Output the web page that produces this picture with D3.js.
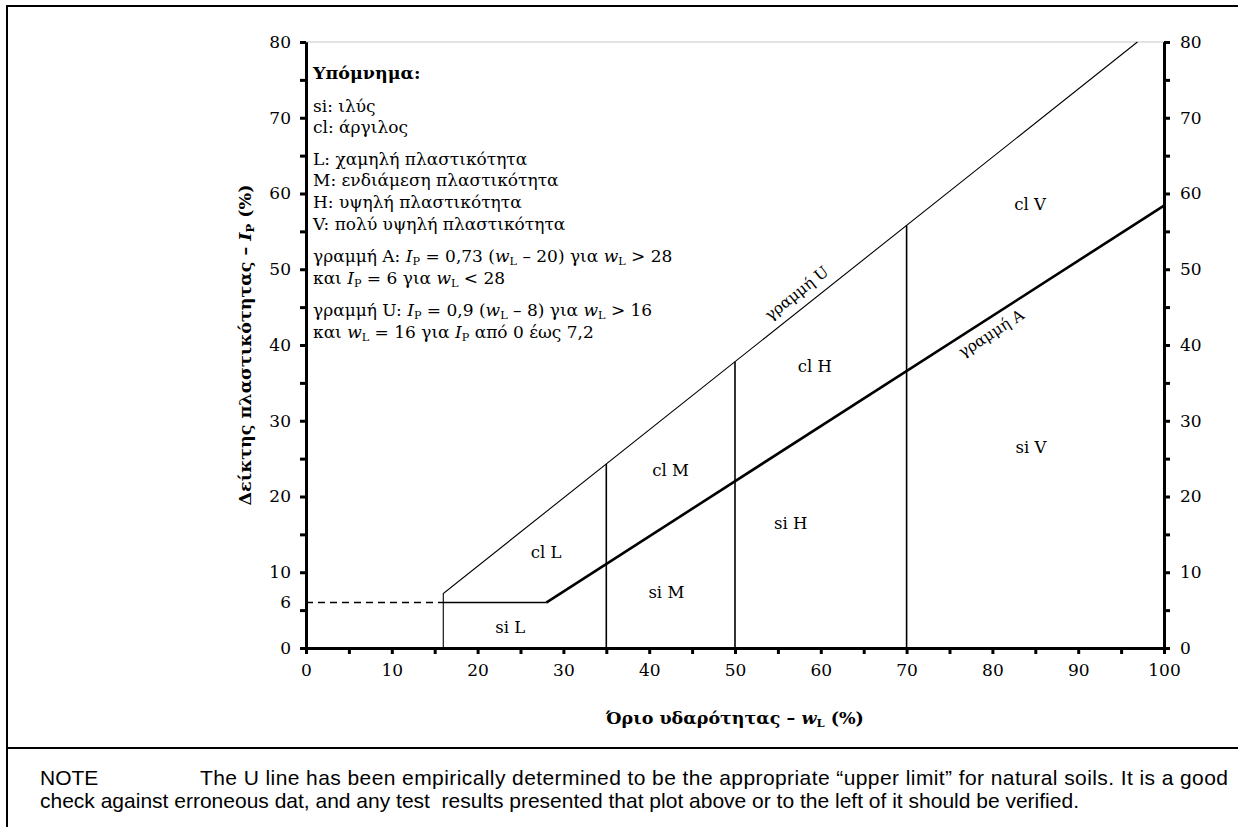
<!DOCTYPE html>
<html>
<head>
  <meta charset="utf-8">
  <title>Διάγραμμα πλαστικότητας</title>
  <script src="https://d3js.org/d3.v7.min.js"></script>
  <style>
    body { margin: 0; background: #fff; }
    .serif { font-family: "DejaVu Serif", serif; }
    .axis text { font-family: "DejaVu Serif", serif; font-size: 17px; fill: #000; }
    .axis path, .axis line { stroke: #000; }
    .pre { white-space: pre; }
  </style>
</head>
<body>
  <svg id="chart"></svg>

  <script>
    // Τιμές αξόνων
    var xMajor = [0, 10, 20, 30, 40, 50, 60, 70, 80, 90, 100];
    var xMinor = [5, 15, 25, 35, 45, 55, 65, 75, 85, 95];
    var yMajor = [0, 10, 20, 30, 40, 50, 60, 70, 80];
    var yMinor = [5, 15, 25, 35, 45, 55, 65, 75];

    // Γραμμή U (wL, Ip)
    var uLineWl = [16, 16, 96.9];
    var uLineIp = [0, 7.2, 80];
    // Γραμμή A
    var aFlatWl = [16, 28];
    var aFlatIp = [6, 6];
    var aSlopeWl = [28, 100];
    var aSlopeIp = [6, 58.4];
    var aDashWl = [0, 16];
    var aDashIp = [6, 6];

    // Κάθετα όρια πλαστικότητας
    var dividerWl = [35, 50, 70];
    var dividerTop = [24.3, 37.8, 55.8];

    // Ετικέτες περιοχών
    var zoneNames = ["si L", "cl L", "cl M", "si M", "cl H", "si H", "cl V", "si V"];
    var zoneWl = [23.8, 28, 42.5, 42, 59.3, 56.5, 84.4, 84.5];
    var zoneIp = [2.8, 12.6, 23.5, 7.4, 37.2, 16.5, 58.6, 26.5];

    // Υπόμνημα
    var legendTitle = "Υπόμνημα:";
    var legendLines = [
      [{t: "si: ιλύς"}],
      [{t: "cl: άργιλος"}],
      [{t: "L: χαμηλή πλαστικότητα"}],
      [{t: "M: ενδιάμεση πλαστικότητα"}],
      [{t: "H: υψηλή πλαστικότητα"}],
      [{t: "V: πολύ υψηλή πλαστικότητα"}],
      [{t: "γραμμή A: "}, {t: "I", i: 1}, {t: "P", s: 1}, {t: " = 0,73 ("}, {t: "w", i: 1}, {t: "L", s: 1}, {t: " – 20) για "}, {t: "w", i: 1}, {t: "L", s: 1}, {t: " > 28"}],
      [{t: "και "}, {t: "I", i: 1}, {t: "P", s: 1}, {t: " = 6 για "}, {t: "w", i: 1}, {t: "L", s: 1}, {t: " < 28"}],
      [{t: "γραμμή U: "}, {t: "I", i: 1}, {t: "P", s: 1}, {t: " = 0,9 ("}, {t: "w", i: 1}, {t: "L", s: 1}, {t: " – 8) για "}, {t: "w", i: 1}, {t: "L", s: 1}, {t: " > 16"}],
      [{t: "και "}, {t: "w", i: 1}, {t: "L", s: 1}, {t: " = 16 για "}, {t: "I", i: 1}, {t: "P", s: 1}, {t: " από 0 έως 7,2"}]
    ];
    var legendY = [107, 128, 160, 181, 203, 225, 257, 279, 311, 333];

    var xTitle = [{t: "Όριο υδαρότητας – "}, {t: "w", i: 1}, {t: "L", s: 1}, {t: " (%)"}];
    var yTitle = [{t: "Δείκτης πλαστικότητας – "}, {t: "I", i: 1}, {t: "P", s: 1}, {t: " (%)"}];

    var noteLabel = "NOTE";
    var noteLine1 = "The U line has been empirically determined to be the appropriate “upper limit” for natural soils. It is a good";
    var noteLine2 = "check against erroneous dat, and any test  results presented that plot above or to the left of it should be verified.";

    var width = 1238, height = 827;
    var svg = d3.select("#chart").attr("width", width).attr("height", height);

    var x = d3.scaleLinear().domain([0, 100]).range([306, 1164]);
    var y = d3.scaleLinear().domain([0, 80]).range([648, 42]);

    // Πλαίσιο και διαχωριστική γραμμή
    svg.append("rect").attr("x", 7).attr("y", 6).attr("width", 1260).attr("height", 840)
      .attr("fill", "none").attr("stroke", "#000").attr("stroke-width", 2);
    svg.append("line").attr("x1", 7).attr("x2", width).attr("y1", 748).attr("y2", 748)
      .attr("stroke", "#000").attr("stroke-width", 2);

    // πάνω όριο περιοχής σχεδίασης
    svg.append("line").attr("x1", x(0)).attr("x2", x(100)).attr("y1", y(80)).attr("y2", y(80))
      .attr("stroke", "#d9d9d9").attr("stroke-width", 1.5);

    // βοηθητική συνάρτηση για κείμενο με δείκτες
    function rich(sel, parts, size) {
      parts.forEach(function(p, k) {
        var ts = sel.append("tspan").text(p.t);
        if (p.i) ts.attr("font-style", "italic");
        if (p.s) {
          ts.attr("font-size", size * 0.66).attr("dy", 3);
        } else if (k > 0 && parts[k - 1].s) {
          ts.attr("dy", -3);
        }
      });
      return sel;
    }

    var line = d3.line().x(function(d) { return x(d[0]); }).y(function(d) { return y(d[1]); });
    function pts(a, b) { return a.map(function(v, k) { return [v, b[k]]; }); }

    // κάθετα όρια
    svg.selectAll(".divider").data(dividerWl).enter().append("line")
      .attr("class", "divider")
      .attr("x1", function(d) { return x(d); }).attr("x2", function(d) { return x(d); })
      .attr("y1", y(0)).attr("y2", function(d, k) { return y(dividerTop[k]); })
      .attr("stroke", "#000").attr("stroke-width", 1.6);

    // γραμμή U
    svg.append("path").attr("d", line(pts(uLineWl, uLineIp)))
      .attr("fill", "none").attr("stroke", "#000").attr("stroke-width", 1.1);

    // γραμμή A
    svg.append("path").attr("d", line(pts(aDashWl, aDashIp)))
      .attr("fill", "none").attr("stroke", "#000").attr("stroke-width", 1.5).attr("stroke-dasharray", "7,5");
    svg.append("path").attr("d", line(pts(aFlatWl, aFlatIp)))
      .attr("fill", "none").attr("stroke", "#000").attr("stroke-width", 1.6);
    svg.append("path").attr("d", line(pts(aSlopeWl, aSlopeIp)))
      .attr("fill", "none").attr("stroke", "#000").attr("stroke-width", 2.6);

    // Άξονες
    function styleAxis(g) {
      g.selectAll("path").attr("stroke-width", 3);
      g.selectAll("line").attr("stroke-width", 3);
    }
    svg.append("g").attr("class", "axis").attr("transform", "translate(" + x(0) + ",0)")
      .call(d3.axisLeft(y).tickValues(yMajor).tickSize(6).tickSizeOuter(0).tickPadding(9))
      .call(styleAxis);
    svg.append("g").attr("class", "axis").attr("transform", "translate(" + x(0) + ",0)")
      .call(d3.axisLeft(y).tickValues(yMinor).tickSize(6).tickSizeOuter(0).tickFormat(""))
      .call(styleAxis);
    svg.append("g").attr("class", "axis").attr("transform", "translate(" + x(100) + ",0)")
      .call(d3.axisRight(y).tickValues(yMajor).tickSize(6).tickSizeOuter(0).tickPadding(10))
      .call(styleAxis);
    svg.append("g").attr("class", "axis").attr("transform", "translate(" + x(100) + ",0)")
      .call(d3.axisRight(y).tickValues(yMinor).tickSize(6).tickSizeOuter(0).tickFormat(""))
      .call(styleAxis);
    svg.append("g").attr("class", "axis").attr("transform", "translate(0," + y(0) + ")")
      .call(d3.axisBottom(x).tickValues(xMajor).tickSize(6).tickSizeOuter(0).tickPadding(10))
      .call(styleAxis);
    svg.append("g").attr("class", "axis").attr("transform", "translate(0," + y(0) + ")")
      .call(d3.axisBottom(x).tickValues(xMinor).tickSize(6).tickSizeOuter(0).tickFormat(""))
      .call(styleAxis);

    // ετικέτα 6 στον αριστερό άξονα
    svg.append("text").attr("class", "serif").attr("x", x(0) - 15).attr("y", y(6))
      .attr("dy", "0.32em").attr("text-anchor", "end").attr("font-size", 17).text("6");

    // Τίτλοι αξόνων
    rich(svg.append("text").attr("class", "serif").attr("x", (x(0) + x(100)) / 2).attr("y", 724)
      .attr("text-anchor", "middle").attr("font-size", 17.5).attr("font-weight", "bold"), xTitle, 17.5);
    rich(svg.append("text").attr("class", "serif")
      .attr("transform", "translate(251," + (y(0) + y(80)) / 2 + ") rotate(-90)")
      .attr("text-anchor", "middle").attr("font-size", 17.5).attr("font-weight", "bold"), yTitle, 17.5);

    // Ετικέτες περιοχών
    svg.selectAll(".zone").data(zoneNames).enter().append("text")
      .attr("class", "zone serif")
      .attr("x", function(d, k) { return x(zoneWl[k]); })
      .attr("y", function(d, k) { return y(zoneIp[k]); })
      .attr("dy", "0.35em").attr("text-anchor", "middle").attr("font-size", 16.5)
      .text(function(d) { return d; });

    // Ετικέτες γραμμών (περιστροφή κατά την κλίση)
    function slopeAngle(m) {
      return -Math.atan(m * (y(0) - y(1)) / (x(1) - x(0))) * 180 / Math.PI;
    }
    var uAng = slopeAngle(0.9), aAng = slopeAngle(0.73);
    var uWl = 58.3, uIp = 0.9 * (uWl - 8);
    svg.append("text").attr("class", "serif").attr("font-size", 15.5).attr("text-anchor", "middle")
      .attr("transform", "translate(" + x(uWl) + "," + y(uIp) + ") rotate(" + uAng + ") translate(0,-10)")
      .text("γραμμή U");
    var aWl = 79, aIp = 0.73 * (aWl - 20);
    svg.append("text").attr("class", "serif").attr("font-size", 15.5).attr("text-anchor", "middle")
      .attr("transform", "translate(" + x(aWl) + "," + y(aIp) + ") rotate(" + aAng + ") translate(0,19)")
      .text("γραμμή A");

    // Υπόμνημα
    svg.append("text").attr("class", "serif").attr("x", 313).attr("y", 79)
      .attr("font-size", 17.5).attr("font-weight", "bold").text(legendTitle);
    legendLines.forEach(function(parts, k) {
      rich(svg.append("text").attr("class", "serif").attr("x", 313).attr("y", legendY[k] + 5)
        .attr("font-size", 17), parts, 17);
    });

    // Σημείωση
    var note = svg.append("g").attr("font-family", "'Liberation Sans', Arial, sans-serif").attr("font-size", 21);
    note.append("text").attr("x", 40).attr("y", 785).text(noteLabel);
    note.append("text").attr("x", 200).attr("y", 785)
      .attr("textLength", 1028).attr("lengthAdjust", "spacing").text(noteLine1);
    note.append("text").attr("class", "pre").attr("x", 40).attr("y", 808).text(noteLine2);
  </script>
</body>
</html>
